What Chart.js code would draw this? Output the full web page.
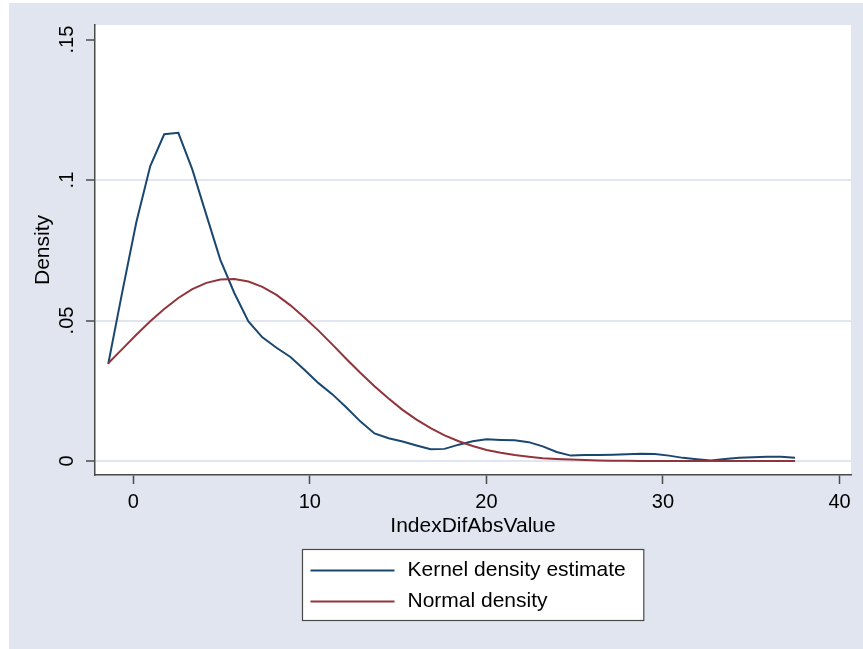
<!DOCTYPE html>
<html>
<head>
<meta charset="utf-8">
<script src="https://cdn.jsdelivr.net/npm/chart.js@4/dist/chart.umd.min.js"></script>
<style>
  html, body { margin: 0; padding: 0; background: #fff; }
  canvas { display: block; }
</style>
</head>
<body>
<canvas id="density" width="863" height="649"></canvas>
<script>
// evaluation grid (x values where both densities were computed)
const gridX = [
  -1.42, -0.63, 0.17, 0.96, 1.75, 2.55, 3.34, 4.14, 4.93, 5.72,
  6.52, 7.31, 8.11, 8.90, 9.69, 10.49, 11.28, 12.07, 12.87, 13.66,
  14.46, 15.25, 16.04, 16.84, 17.63, 18.43, 19.22, 20.01, 20.81, 21.60,
  22.40, 23.19, 23.98, 24.78, 25.57, 26.37, 27.16, 27.95, 28.75, 29.54,
  30.34, 31.13, 31.92, 32.72, 33.51, 34.31, 35.10, 35.89, 36.69, 37.48,
];

const kernelY = [
  0.0345, 0.0600, 0.0850, 0.1050, 0.1163, 0.1168, 0.1038, 0.0875, 0.0716, 0.0598,
  0.0497, 0.0440, 0.0403, 0.0370, 0.0325, 0.0277, 0.0237, 0.0190, 0.0140, 0.0098,
  0.0081, 0.0069, 0.0055, 0.0042, 0.0043, 0.0058, 0.0070, 0.0077, 0.0075, 0.0074,
  0.0067, 0.0052, 0.0032, 0.0019, 0.0021, 0.0021, 0.0022, 0.0024, 0.0026, 0.0025,
  0.0019, 0.0011, 0.0006, 0.0002, 0.0007, 0.0011, 0.0013, 0.0015, 0.0015, 0.0011,
];

const normalY = [
  0.0348, 0.0398, 0.0449, 0.0497, 0.0541, 0.0580, 0.0612, 0.0634, 0.0646, 0.0648,
  0.0639, 0.0620, 0.0591, 0.0554, 0.0511, 0.0464, 0.0414, 0.0363, 0.0313, 0.0266,
  0.0222, 0.0182, 0.0147, 0.0117, 0.0091, 0.0070, 0.0053, 0.0039, 0.0029, 0.0021,
  0.0015, 0.0010, 0.0007, 0.0005, 0.0003, 0.0002, 0.0001, 0.0001, 0.0000, 0.0000,
  0.0000, 0.0000, 0.0000, 0.0000, 0.0000, 0.0000, 0.0000, 0.0000, 0.0000, 0.0000,
];

const seriesNames = ["Kernel density estimate", "Normal density"];
const xTicks = [0, 10, 20, 30, 40];
const yTicks = [0, 0.05, 0.1, 0.15];
const yTickLabels = ["0", ".05", ".1", ".15"];

const BG = "#e1e5ef";
const NAVY = "#1a476f";
const MAROON = "#90353b";
const AXIS = "#4a4a4a";
const FONT = "'Liberation Sans', Arial, Helvetica, sans-serif";

function points(ys) {
  return gridX.map((x, i) => ({ x: x, y: ys[i] }));
}

// graph region + white plot region, like Stata's s2color scheme
const backgroundPlugin = {
  id: "background",
  beforeDraw(chart) {
    const { ctx, chartArea } = chart;
    ctx.save();
    ctx.fillStyle = "#ffffff";
    ctx.fillRect(0, 0, chart.width, chart.height);
    ctx.fillStyle = BG;
    ctx.fillRect(9, 3, chart.width - 9, chart.height - 3);
    ctx.fillStyle = "#ffffff";
    ctx.fillRect(chartArea.left, chartArea.top,
      chartArea.right - chartArea.left, chartArea.bottom - chartArea.top);
    ctx.restore();
  },
};

// boxed, stacked legend under the x axis title
const boxLegendPlugin = {
  id: "boxLegend",
  afterDraw(chart) {
    const { ctx, chartArea } = chart;
    const sets = chart.data.datasets;
    ctx.save();
    ctx.font = "21px " + FONT;
    let textW = 0;
    sets.forEach(ds => { textW = Math.max(textW, ctx.measureText(ds.label).width); });
    const padL = 8, lineLen = 84, gap = 13, padR = 18, rowH = 31;
    const w = padL + lineLen + gap + textW + padR;
    const h = 71;
    const cx = (chartArea.left + chartArea.right) / 2;
    const left = Math.round(cx - w / 2) + 0.5;
    const top = chartArea.bottom + 74.5;
    ctx.fillStyle = "#ffffff";
    ctx.fillRect(left, top, w, h);
    ctx.strokeStyle = AXIS;
    ctx.lineWidth = 1.2;
    ctx.strokeRect(left, top, w, h);
    sets.forEach((ds, i) => {
      const y = top + 21 + i * rowH;
      ctx.strokeStyle = ds.borderColor;
      ctx.lineWidth = 2;
      ctx.beginPath();
      ctx.moveTo(left + padL, y);
      ctx.lineTo(left + padL + lineLen, y);
      ctx.stroke();
      ctx.fillStyle = "#000";
      ctx.textBaseline = "middle";
      ctx.textAlign = "left";
      ctx.fillText(ds.label, left + padL + lineLen + gap, y);
    });
    ctx.restore();
  },
};

new Chart(document.getElementById("density"), {
  type: "line",
  data: {
    datasets: [
      {
        label: seriesNames[0],
        data: points(kernelY),
        borderColor: NAVY,
        backgroundColor: NAVY,
        borderWidth: 2,
        pointRadius: 0,
        tension: 0,
        order: 1,
      },
      {
        label: seriesNames[1],
        data: points(normalY),
        borderColor: MAROON,
        backgroundColor: MAROON,
        borderWidth: 2,
        pointRadius: 0,
        tension: 0,
        order: 0,
      },
    ],
  },
  options: {
    responsive: false,
    animation: false,
    layout: {
      padding: { left: 0, top: 25, right: 12, bottom: 109 },
    },
    plugins: {
      legend: { display: false },
      tooltip: { enabled: false },
    },
    scales: {
      x: {
        type: "linear",
        min: -2.17,
        max: 40.65,
        afterBuildTicks: (scale) => {
          scale.ticks = xTicks.map(v => ({ value: v }));
        },
        afterFit: (scale) => { scale.height = 65; },
        grid: {
          drawOnChartArea: false,
          drawTicks: true,
          tickLength: 9,
          tickColor: AXIS,
          tickWidth: 1.5,
        },
        border: { color: AXIS, width: 1.5 },
        ticks: {
          color: "#000",
          padding: 6,
          maxRotation: 0,
          autoSkip: false,
          font: { family: FONT, size: 20 },
        },
        title: {
          display: true,
          text: "IndexDifAbsValue",
          color: "#000",
          padding: { top: 0, bottom: 1.5 },
          font: { family: FONT, size: 21 },
        },
      },
      y: {
        type: "linear",
        min: -0.005,
        max: 0.1552,
        afterBuildTicks: (scale) => {
          scale.ticks = yTicks.map(v => ({ value: v }));
        },
        afterFit: (scale) => { scale.width = 95; },
        grid: {
          color: (c) => (c.tick && c.tick.value > 0.12 ? "rgba(0,0,0,0)" : BG),
          lineWidth: 2,
          tickLength: 9,
          tickColor: AXIS,
          tickWidth: 1.5,
        },
        border: { color: AXIS, width: 1.5 },
        ticks: {
          color: "#000",
          minRotation: 90,
          maxRotation: 90,
          crossAlign: "center",
          padding: 5,
          autoSkip: false,
          font: { family: FONT, size: 20 },
          callback: (value) => {
            const i = yTicks.findIndex(t => Math.abs(t - value) < 1e-9);
            return i >= 0 ? yTickLabels[i] : "";
          },
        },
        title: {
          display: true,
          text: "Density",
          color: "#000",
          padding: { top: 31, bottom: 0 },
          font: { family: FONT, size: 21 },
        },
      },
    },
  },
  plugins: [backgroundPlugin, boxLegendPlugin],
});
</script>
</body>
</html>
